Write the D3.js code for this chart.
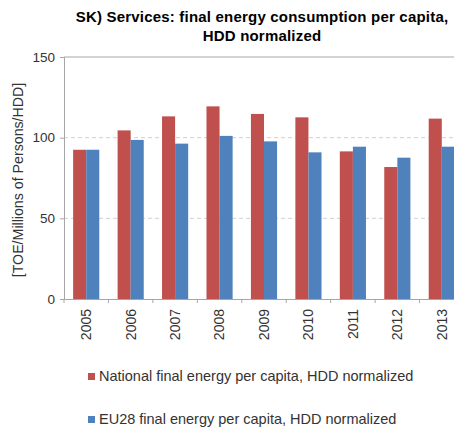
<!DOCTYPE html>
<html>
<head>
<meta charset="utf-8">
<script src="https://cdn.jsdelivr.net/npm/d3@7"></script>
<style>
  body { margin: 0; background: #fff; }
  svg { display: block; font-family: "Liberation Sans", Arial, sans-serif; }
</style>
</head>
<body>
<div id="chart"></div>
<script>
// data
var years = ["2005", "2006", "2007", "2008", "2009", "2010", "2011", "2012", "2013"];
var national = [92.5, 104.5, 113.2, 119.4, 114.7, 112.6, 91.5, 81.8, 111.8];
var eu28 = [92.5, 98.6, 96.3, 101.1, 97.7, 90.9, 94.4, 87.6, 94.4];
var yTicks = [0, 50, 100, 150];
var seriesNames = ["National final energy per capita, HDD normalized",
                   "EU28 final energy per capita, HDD normalized"];
var colors = ["#C0504D", "#4F81BD"];

var W = 454, H = 430;
var margin = {top: 57, left: 64};
var plotW = 400, plotH = 242;

var svg = d3.select("#chart").append("svg")
    .attr("width", W)
    .attr("height", H);

// title
var title = svg.append("text")
    .attr("text-anchor", "middle")
    .attr("font-weight", "bold")
    .attr("font-size", 15)
    .attr("letter-spacing", 0.2)
    .attr("fill", "#000");
title.append("tspan").attr("x", 262).attr("y", 22)
    .text("SK) Services: final energy consumption per capita,");
title.append("tspan").attr("x", 262).attr("y", 41)
    .text("HDD normalized");

var g = svg.append("g")
    .attr("transform", "translate(" + margin.left + "," + margin.top + ")");

var x = d3.scaleBand()
    .domain(years)
    .range([0, plotW]);

var y = d3.scaleLinear()
    .domain([0, 150])
    .range([plotH, 0]);

// gridlines
g.selectAll(".grid")
  .data(yTicks.filter(function(d){ return d > 0 && d < 150; }))
  .enter().append("line")
    .attr("class", "grid")
    .attr("x1", 0).attr("x2", plotW)
    .attr("y1", function(d){ return y(d); })
    .attr("y2", function(d){ return y(d); })
    .attr("stroke", "#d0d0d0")
    .attr("stroke-width", 1)
    .attr("stroke-dasharray", "4,3");

// top border line at 150
g.append("line")
    .attr("x1", 0).attr("x2", plotW)
    .attr("y1", y(150)).attr("y2", y(150))
    .attr("stroke", "#a6a6a6");

// bars
var inner = d3.scaleBand()
    .domain([0, 1])
    .range([0, x.bandwidth()])
    .paddingOuter(0.7)
    .paddingInner(0);

var rows = years.map(function(yr, i){
  return {year: yr, vals: [national[i], eu28[i]]};
});

var grp = g.selectAll(".yr")
  .data(rows)
  .enter().append("g")
    .attr("class", "yr")
    .attr("transform", function(d){ return "translate(" + x(d.year) + ",0)"; });

grp.selectAll("rect")
  .data(function(d){ return d.vals.map(function(v, k){ return {k: k, v: v}; }); })
  .enter().append("rect")
    .attr("x", function(d){ return inner(d.k); })
    .attr("width", inner.bandwidth())
    .attr("y", function(d){ return y(d.v); })
    .attr("height", function(d){ return y(0) - y(d.v); })
    .attr("fill", function(d){ return colors[d.k]; });

// y axis
var yAxis = g.append("g")
    .call(d3.axisLeft(y).tickValues(yTicks).tickSize(4).tickPadding(5));
yAxis.select(".domain").attr("stroke", "#a6a6a6");
yAxis.selectAll(".tick line").attr("stroke", "#a6a6a6");
yAxis.selectAll("text")
    .attr("font-size", 13.5)
    .attr("font-family", "Liberation Sans, Arial, sans-serif")
    .attr("fill", "#333");

// x axis
var xAxis = g.append("g")
    .attr("transform", "translate(0," + plotH + ")")
    .call(d3.axisBottom(x).tickSize(0).tickPadding(0));
xAxis.select(".domain").attr("stroke", "#a6a6a6");
xAxis.selectAll(".tick text")
    .attr("font-size", 14)
    .attr("font-family", "Liberation Sans, Arial, sans-serif")
    .attr("fill", "#333")
    .attr("text-anchor", "end")
    .attr("transform", "translate(0,10) rotate(-90)")
    .attr("x", 0)
    .attr("y", 0)
    .attr("dy", "0.35em");

// category boundary ticks
g.selectAll(".xtick")
  .data(years.concat(["end"]))
  .enter().append("line")
    .attr("class", "xtick")
    .attr("x1", function(d, i){ return i * x.step(); })
    .attr("x2", function(d, i){ return i * x.step(); })
    .attr("y1", plotH)
    .attr("y2", plotH + 4)
    .attr("stroke", "#a6a6a6");

// y axis title
svg.append("text")
    .attr("transform", "translate(22.5,180) rotate(-90)")
    .attr("text-anchor", "middle")
    .attr("font-size", 14.2)
    .attr("fill", "#333")
    .text("[TOE/Millions of Persons/HDD]");

// legend
var leg = svg.selectAll(".leg")
  .data(seriesNames)
  .enter().append("g")
    .attr("class", "leg")
    .attr("transform", function(d, i){ return "translate(88," + (373 + i * 43) + ")"; });

leg.append("rect")
    .attr("width", 7).attr("height", 7)
    .attr("fill", function(d, i){ return colors[i]; });

leg.append("text")
    .attr("x", 11)
    .attr("y", 7.5)
    .attr("font-size", 14.5)
    .attr("fill", "#333")
    .text(function(d){ return d; });
</script>
</body>
</html>
